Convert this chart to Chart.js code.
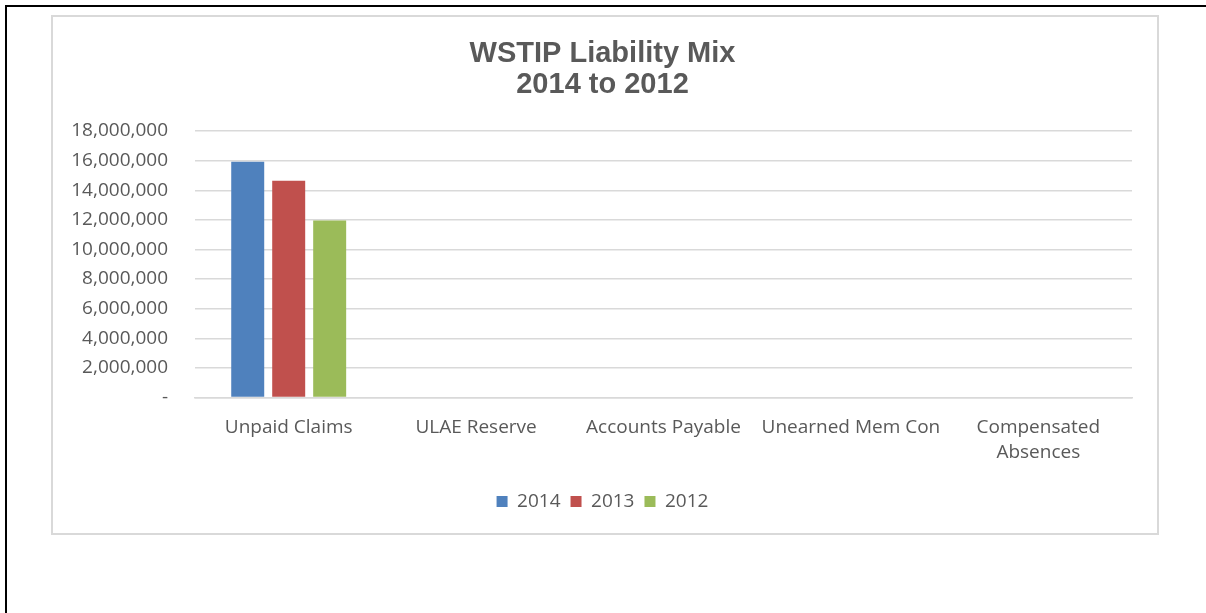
<!DOCTYPE html>
<html>
<head>
<meta charset="utf-8">
<script src="https://cdn.jsdelivr.net/npm/chart.js@4"></script>
<style>
	body { margin: 0; background: #fff; width: 1206px; height: 613px; overflow: hidden; position: relative; }
	.outer { position: absolute; left: 5px; top: 5px; right: -10px; bottom: -10px; border-left: 2px solid #000; border-top: 2px solid #000; }
	.frame { position: absolute; left: 51px; top: 15px; width: 1108px; height: 520px; box-sizing: border-box; border: 2px solid #d9d9d9; }
	.wrap { position: absolute; left: 53px; top: 17px; width: 1104px; height: 516px; }
</style>
</head>
<body>
<div class="outer"></div>
<div class="frame"></div>
<div class="wrap"><canvas id="liabilityMix"></canvas></div>
<script>
const categories = ['Unpaid Claims', 'ULAE Reserve', 'Accounts Payable', 'Unearned Mem Con', ['Compensated', 'Absences']];
const years = ['2014', '2013', '2012'];
const values2014 = [15920000, 0, 0, 0, 0];
const values2013 = [14640000, 0, 0, 0, 0];
const values2012 = [11960000, 0, 0, 0, 0];
const colors = ['#4f81bd', '#c0504d', '#9bbb59'];

const textGray = '#595959';
const gridGray = '#d9d9d9';

const ctx = document.getElementById('liabilityMix').getContext('2d');
new Chart(ctx, {
	type: 'bar',
	data: {
		labels: categories,
		datasets: [values2014, values2013, values2012].map((d, i) => ({
			label: years[i],
			data: d,
			backgroundColor: colors[i],
			borderWidth: 0,
			categoryPercentage: 0.656,
			barPercentage: 0.805,
		})),
	},
	options: {
		responsive: true,
		maintainAspectRatio: false,
		animation: false,
		layout: { padding: { left: 20, right: 25, top: 0, bottom: 12 } },
		plugins: {
			title: {
				display: true,
				text: ['WSTIP Liability Mix', '2014 to 2012'],
				color: textGray,
				font: { family: 'Liberation Sans', size: 29, weight: 'bold', lineHeight: 1.07 },
				padding: { top: 21, bottom: 31 },
			},
			legend: {
				position: 'bottom',
				labels: {
					color: textGray,
					font: { family: 'Open Sans', size: 19 },
					boxWidth: 11,
					boxHeight: 11,
					padding: 10,
				},
			},
			tooltip: { enabled: false },
		},
		scales: {
			x: {
				grid: { display: false, drawTicks: false },
				border: { display: true, color: gridGray, width: 1.4 },
				ticks: {
					color: textGray,
					font: { family: 'Open Sans', size: 19, lineHeight: 1.33 },
					padding: 17,
					maxRotation: 0,
					autoSkip: false,
				},
			},
			y: {
				min: 0,
				max: 18000000,
				afterFit: (scale) => { scale.width = 122; },
				grid: { color: gridGray, lineWidth: 1.4, drawTicks: false },
				border: { display: false },
				ticks: {
					stepSize: 2000000,
					color: textGray,
					font: { family: 'Open Sans', size: 19 },
					padding: 27,
					callback: (v) => v === 0 ? '-' : v.toLocaleString('en-US'),
				},
			},
		},
	},
});
</script>
</body>
</html>
